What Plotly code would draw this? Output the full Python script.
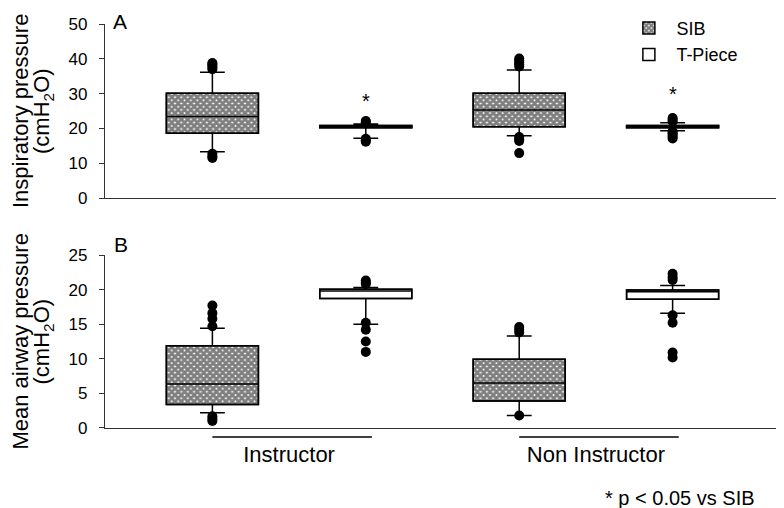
import plotly.graph_objects as go

# ---------------- data ----------------
groups = ["Instructor", "Non Instructor"]
devices = ["SIB", "T-Piece"]
# box order: Instructor SIB, Instructor T-Piece, Non Instructor SIB, Non Instructor T-Piece
box_group = ["Instructor", "Instructor", "Non Instructor", "Non Instructor"]
box_device = ["SIB", "T-Piece", "SIB", "T-Piece"]

# Panel A: inspiratory pressure (cmH2O)
A_q1 = [18.6, 20.2, 20.5, 20.2]
A_med = [23.4, 20.5, 25.3, 20.5]
A_q3 = [30.1, 20.8, 30.1, 20.8]
A_lo = [13.3, 17.2, 17.9, 19.3]
A_hi = [36.1, 21.3, 36.8, 21.6]
A_out = [
    [37.0, 37.5, 38.0, 38.5, 38.8, 11.5, 12.0, 12.7],
    [21.8, 22.1, 16.2, 16.6, 17.0],
    [37.8, 38.4, 39.0, 39.6, 40.1, 16.4, 16.9, 17.5, 12.9],
    [22.0, 22.5, 23.0, 17.1, 17.6, 18.1, 18.6, 19.1],
]
A_star = [None, 27.9, None, 29.9]

# Panel B: mean airway pressure (cmH2O)
B_q1 = [3.4, 18.7, 3.9, 18.6]
B_med = [6.35, 19.8, 6.5, 19.7]
B_q3 = [11.9, 20.05, 9.95, 19.95]
B_lo = [2.2, 15.0, 1.8, 16.6]
B_hi = [14.4, 20.3, 13.3, 20.6]
B_out = [
    [14.7, 15.8, 16.6, 17.7, 1.0, 1.3, 1.7],
    [20.8, 21.0, 21.3, 15.2, 14.2, 12.5, 11.0],
    [13.8, 14.2, 14.6, 1.8],
    [21.4, 21.8, 22.3, 16.3, 15.2, 10.9, 10.2],
]
B_star = [None, 25.2, None, 25.6]

A_ticks = [0, 10, 20, 30, 40, 50]
B_ticks = [0, 5, 10, 15, 20, 25]

A_title = ["Inspiratory pressure", "(cmH<sub>2</sub>O)"]
B_title = ["Mean airway pressure", "(cmH<sub>2</sub>O)"]

# ---------------- figure ----------------
FONT = "Arial, 'Liberation Sans', sans-serif"
pos = [i + 1 for i in range(len(box_group))]
group_pos = [(pos[2 * g] + pos[2 * g + 1]) / 2 for g in range(len(groups))]
BW = 0.6

fig = go.Figure()

def add_panel(xa, ya, q1, med, q3, lo, hi, outs, stars, show_legend):
    for i, p in enumerate(pos):
        sib = box_device[i] == "SIB"
        pattern = dict(shape="x", size=4.5, solidity=0.85, fgcolor="black",
                       bgcolor="white", fillmode="overlay") if sib else dict(shape="")
        fig.add_trace(go.Bar(
            x=[p], y=[q3[i] - q1[i]], base=[q1[i]], width=BW,
            marker=dict(color="white", pattern=pattern,
                        line=dict(color="black", width=1.5)),
            name=box_device[i], legendgroup=box_device[i],
            showlegend=show_legend and (i < 2),
            xaxis=xa, yaxis=ya, hoverinfo="skip"))
    for i, p in enumerate(pos):
        fig.add_trace(go.Box(
            x=[p], q1=[q1[i]], median=[med[i]], q3=[q3[i]],
            lowerfence=[lo[i]], upperfence=[hi[i]], width=BW,
            whiskerwidth=0.27, fillcolor="rgba(0,0,0,0)",
            line=dict(color="black", width=1.5), showlegend=False,
            xaxis=xa, yaxis=ya, boxpoints=False))
        fig.add_trace(go.Scatter(
            x=[p] * len(outs[i]), y=outs[i], mode="markers",
            marker=dict(color="black", size=10), showlegend=False,
            xaxis=xa, yaxis=ya, cliponaxis=False))
        if stars[i] is not None:
            fig.add_annotation(x=p, y=stars[i], text="*", showarrow=False,
                               xref=xa, yref=ya, font=dict(size=20, color="black", family=FONT))

add_panel("x", "y", A_q1, A_med, A_q3, A_lo, A_hi, A_out, A_star, True)
add_panel("x2", "y2", B_q1, B_med, B_q3, B_lo, B_hi, B_out, B_star, False)

axis_common = dict(showline=True, linecolor="#333", linewidth=1.2, showgrid=False,
                   zeroline=False, mirror=False, automargin=False)
yA_dom = [0.5693, 1.0]
yB_dom = [0.0, 0.4282]

fig.update_layout(
    width=776, height=500,
    margin=dict(l=97, r=4, t=16, b=80, autoexpand=False),
    plot_bgcolor="white", paper_bgcolor="white",
    font=dict(family=FONT, color="black", size=17),
    barmode="overlay", boxmode="overlay",
    xaxis=dict(domain=[0, 1], range=[0.3, 4.7], anchor="y", showticklabels=False,
               ticks="", **axis_common),
    yaxis=dict(domain=yA_dom, range=[0, 50], tickvals=A_ticks, ticks="outside",
               ticklen=5, tickcolor="#333", tickfont=dict(size=17), anchor="x",
               ticklabelstandoff=8, **axis_common),
    xaxis2=dict(domain=[0, 1], range=[0.3, 4.7], anchor="y2", tickvals=group_pos,
                ticktext=groups, ticks="", tickfont=dict(size=22),
                ticklabelstandoff=6, **axis_common),
    yaxis2=dict(domain=yB_dom, range=[0, 25], tickvals=B_ticks, ticks="outside",
                ticklen=5, tickcolor="#333", tickfont=dict(size=17), anchor="x2",
                ticklabelstandoff=8, **axis_common),
    legend=dict(x=0.765, y=1.035, xanchor="left", yanchor="top",
                font=dict(size=18), bgcolor="rgba(0,0,0,0)", itemwidth=45,
                tracegroupgap=0),
    showlegend=True,
)

# y-axis titles (two rotated lines each)
for lines, dom in ((A_title, yA_dom), (B_title, yB_dom)):
    for k, (txt, xp) in enumerate(zip(lines, (-0.1259, -0.0919))):
        fig.add_annotation(text=txt, xref="paper", yref="paper", x=xp,
                           y=(dom[0] + dom[1]) / 2, textangle=-90, showarrow=False,
                           xanchor="center", yanchor="middle", font=dict(size=22))

# group underline shapes
for gp in group_pos:
    fig.add_shape(type="line", xref="x2", yref="paper", x0=gp - 0.5, x1=gp + 0.54,
                  y0=-0.0223, y1=-0.0223, line=dict(color="black", width=1.5))

fig.add_annotation(text="A", xref="paper", yref="paper", x=0.009, y=1.0074,
                   xanchor="left", yanchor="middle", showarrow=False, font=dict(size=21))
fig.add_annotation(text="B", xref="paper", yref="paper", x=0.011, y=0.453,
                   xanchor="left", yanchor="middle", showarrow=False, font=dict(size=21))
fig.add_annotation(text="* p < 0.05 vs SIB", xref="paper", yref="paper", x=0.966,
                   y=-0.173, xanchor="right", yanchor="middle", showarrow=False,
                   font=dict(size=20))

fig.write_html("out.html")
